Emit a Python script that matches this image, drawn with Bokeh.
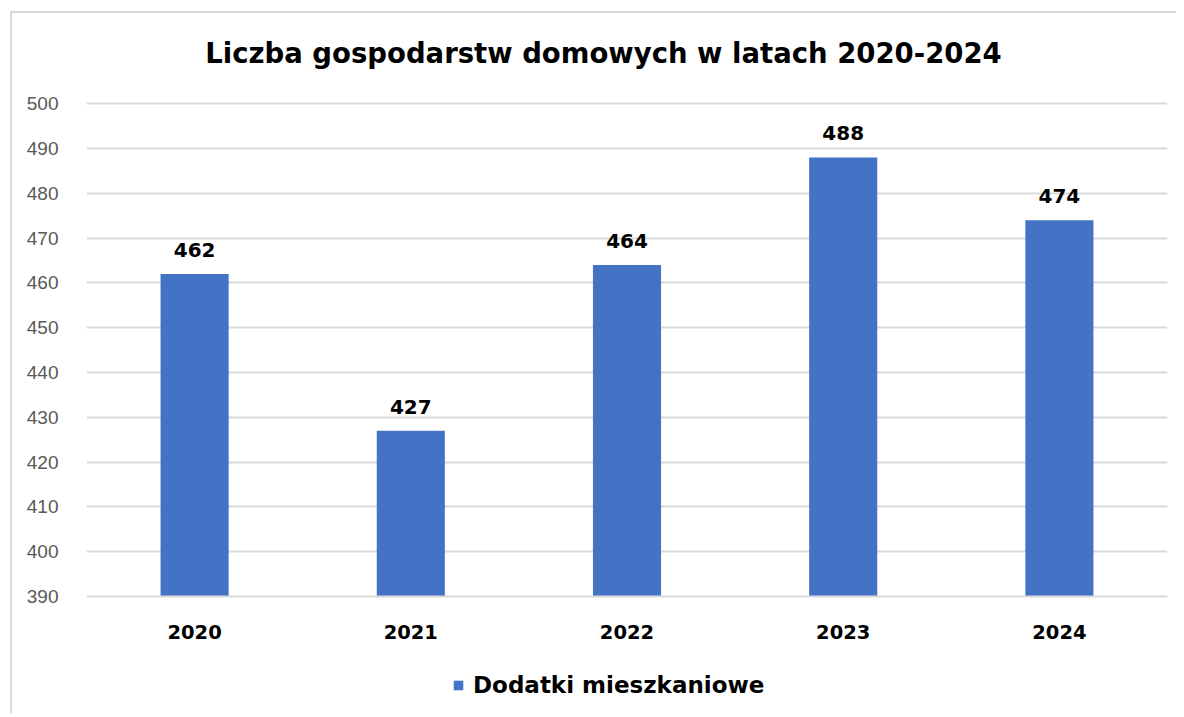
from bokeh.plotting import figure
from bokeh.layouts import column
from bokeh.models import ColumnDataSource, Range1d, Label, LabelSet, Legend, LegendItem, FixedTicker
from bokeh.core.properties import value
from bokeh.embed import file_html
from bokeh.resources import INLINE

years = ["2020", "2021", "2022", "2023", "2024"]
values = [462, 427, 464, 488, 474]
series_name = "Dodatki mieszkaniowe"
title_text = "Liczba gospodarstw domowych w latach 2020-2024"
y_ticks = list(range(390, 501, 10))

BAR_COLOR = "#4472C4"
FONT = "DejaVu Sans"


def blank_fig(h):
    f = figure(width=1164, height=h, x_range=Range1d(0, 1081), y_range=Range1d(0, h),
               output_backend="svg", toolbar_location=None,
               min_border_left=0, min_border_right=0, min_border_top=0, min_border_bottom=0)
    f.axis.visible = False
    f.grid.visible = False
    f.outline_line_color = None
    f.border_fill_color = "white"
    return f


# title row
pt = blank_fig(70)
pt.add_layout(Label(x=517, y=31, text=title_text, text_align="center", text_baseline="middle",
                    text_font=FONT, text_font_style="bold", text_font_size="27.5px",
                    text_color="black"))

# main chart
src = ColumnDataSource(dict(x=years, y=values, lbl=[str(v) for v in values]))

p = figure(x_range=years, y_range=Range1d(390, 500.5), width=1164, height=580,
           output_backend="svg", toolbar_location=None,
           min_border_left=74, min_border_right=9, min_border_top=18, min_border_bottom=67)
p.outline_line_color = None
p.background_fill_color = "white"
p.border_fill_color = "white"

r = p.vbar(x="x", top="y", bottom=390, width=0.315, source=src, fill_color=BAR_COLOR, line_color=None)

p.xgrid.grid_line_color = None
p.ygrid.grid_line_color = "#d9d9d9"
p.ygrid.grid_line_width = 2
p.yaxis.ticker = FixedTicker(ticks=y_ticks)
p.yaxis.axis_line_color = None
p.yaxis.major_tick_line_color = None
p.yaxis.minor_tick_line_color = None
p.yaxis.major_label_text_font = "Liberation Sans"
p.yaxis.major_label_text_font_size = "19px"
p.yaxis.major_label_text_color = "#595959"
p.yaxis.major_label_standoff = 22

p.xaxis.axis_line_color = "#d9d9d9"
p.xaxis.axis_line_width = 2
p.xaxis.major_tick_line_color = None
p.xaxis.minor_tick_line_color = None
p.xaxis.major_label_text_font = FONT
p.xaxis.major_label_text_font_style = "bold"
p.xaxis.major_label_text_font_size = "19.5px"
p.xaxis.major_label_text_color = "black"
p.xaxis.major_label_standoff = 22

labels = LabelSet(x="x", y="y", text="lbl", source=src, text_align="center", text_baseline="bottom",
                  y_offset=17, text_font=value(FONT), text_font_style="bold",
                  text_font_size="20px", text_color="black")
p.add_layout(labels)

# legend row
pl = blank_fig(50)
# a bar outside the visible range, used only as the legend's swatch
r2 = pl.vbar(x=[5000], top=[500], bottom=[400], width=10, fill_color=BAR_COLOR, line_color=None)
legend = Legend(items=[LegendItem(label=series_name, renderers=[r2])], orientation="horizontal",
                location=(366, 15), border_line_color=None, background_fill_alpha=0,
                glyph_width=12, glyph_height=12,
                label_text_font=FONT, label_text_font_style="bold", label_text_font_size="23px",
                label_text_color="black", margin=0, padding=0, label_standoff=9)
pl.add_layout(legend, "center")

layout = column(pt, p, pl, spacing=0)
layout.styles = {"margin-left": "10px", "margin-top": "11px",
                 "border-left": "2px solid #d9d9d9", "border-top": "2px solid #d9d9d9",
                 "background-color": "white"}

open("out.html", "w").write(file_html(layout, INLINE))
